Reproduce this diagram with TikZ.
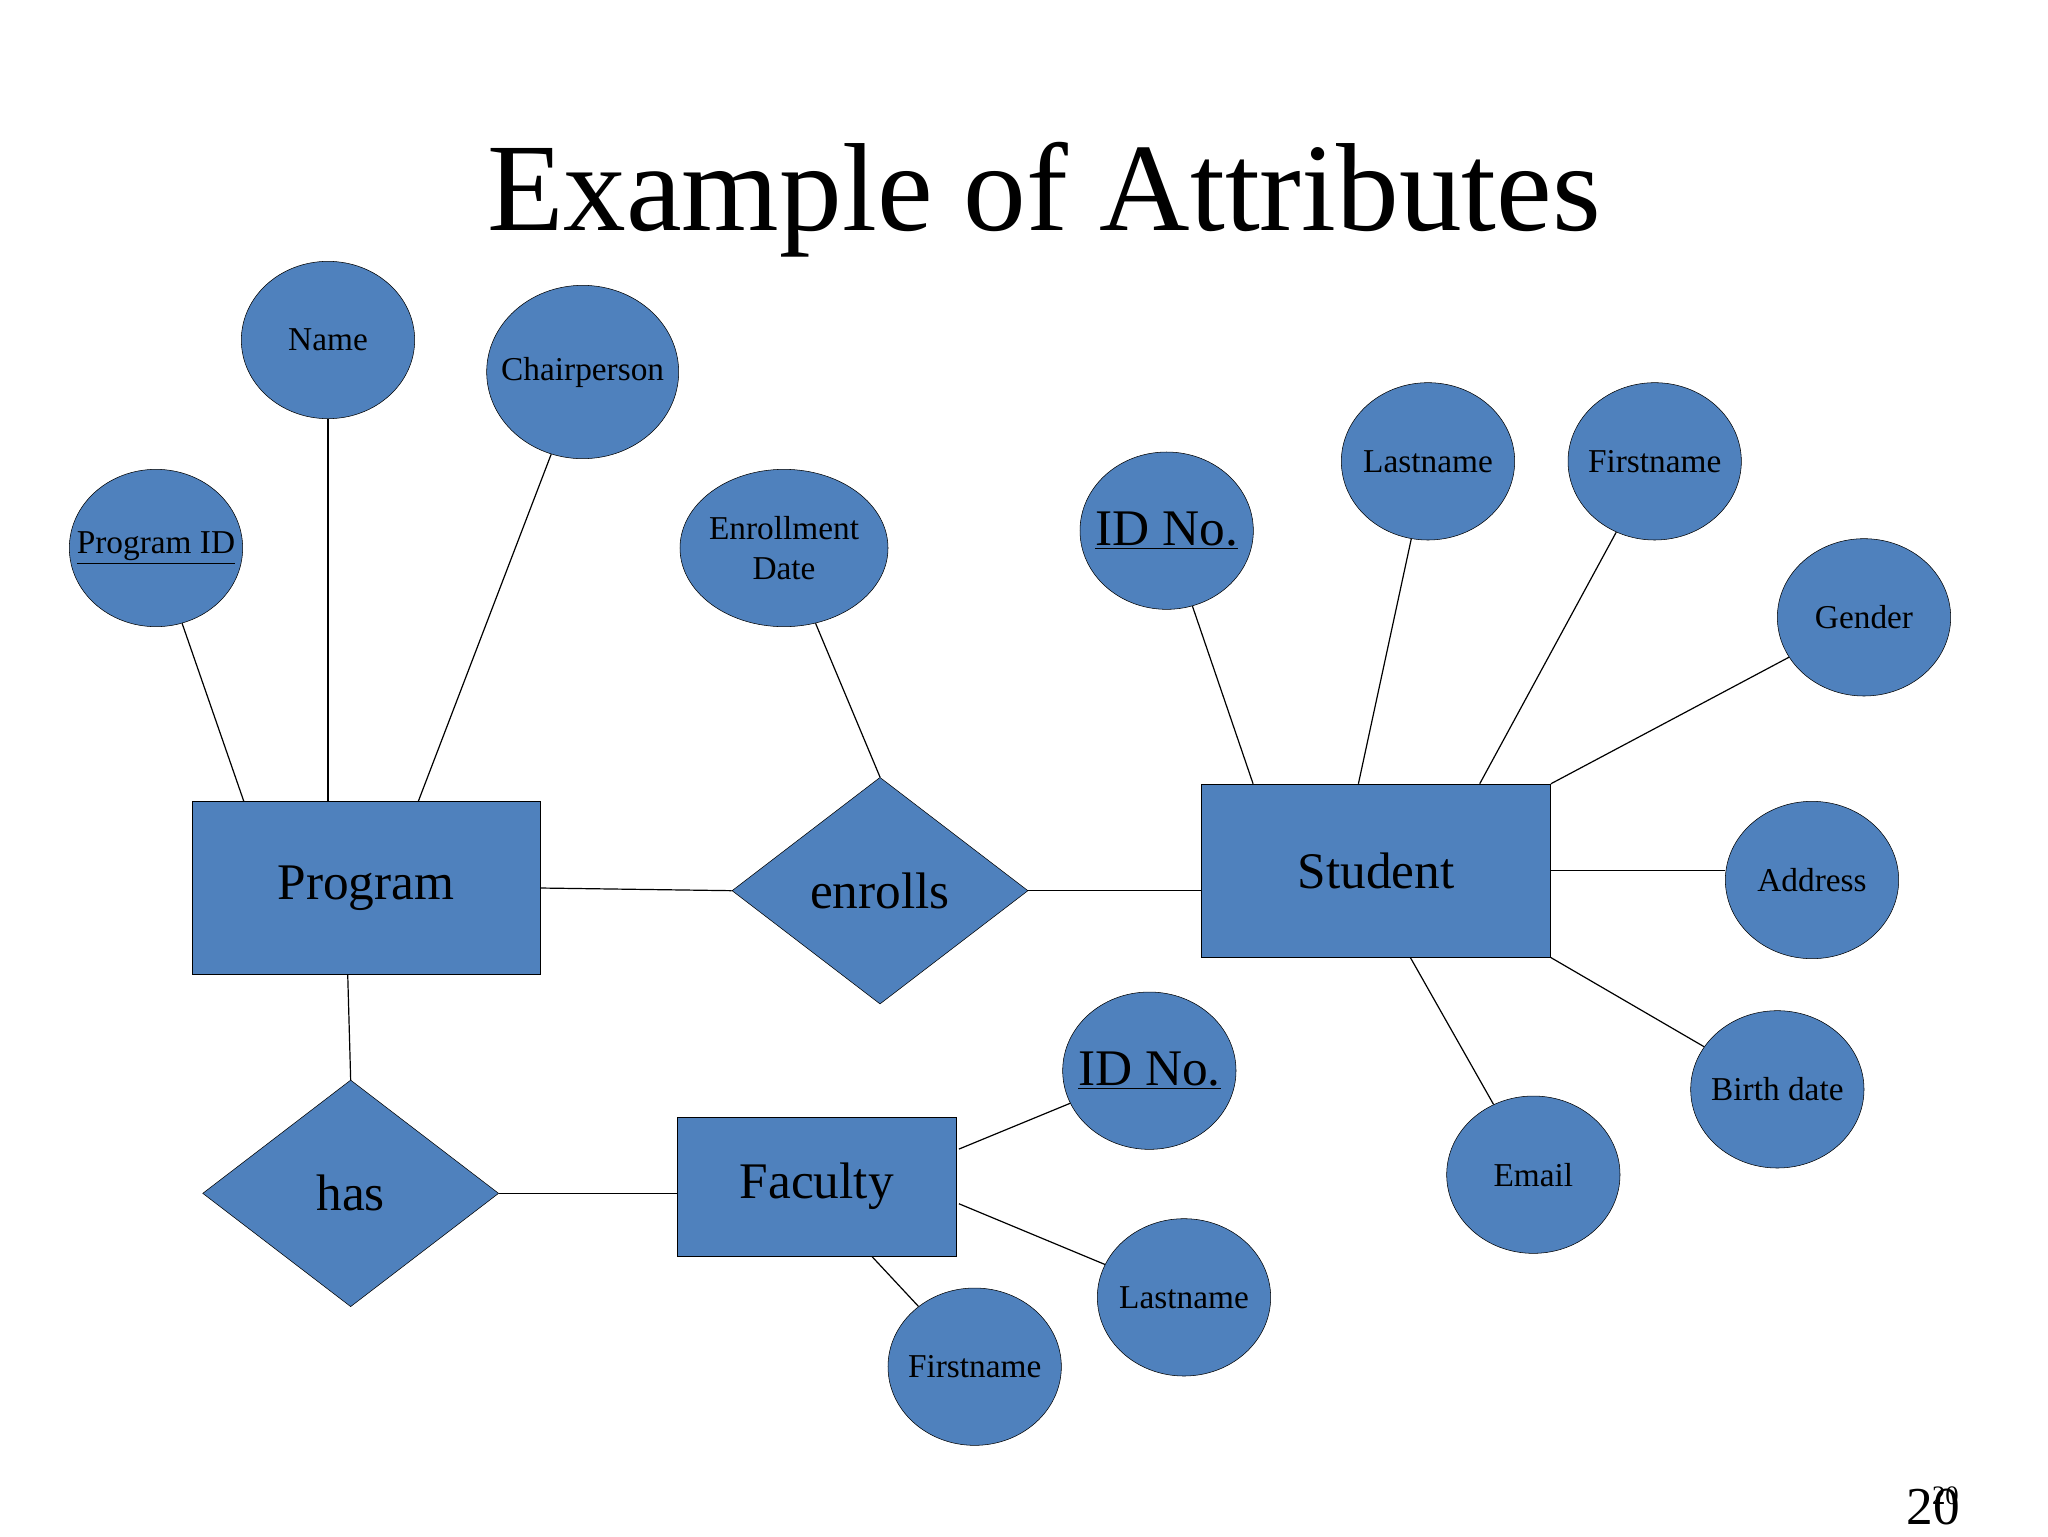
\documentclass[tikz,border=0pt]{standalone}
\usepackage{fontspec}
\setmainfont{Liberation Serif}
\usetikzlibrary{shapes.geometric,calc}
\definecolor{erblue}{HTML}{4F81BD}
\tikzset{
  attr/.style={ellipse,draw=black,fill=erblue,inner sep=0pt,minimum width=130pt,minimum height=118pt},
  atext/.style={inner sep=0pt,font=\fontsize{25}{30}\selectfont,align=center},
  btext/.style={inner sep=0pt,font=\fontsize{38.5}{42}\selectfont},
  ent/.style={rectangle,draw=black,fill=erblue,inner sep=0pt,font=\fontsize{38.5}{42}\selectfont},
  rel/.style={diamond,draw=black,fill=erblue,inner sep=0pt,font=\fontsize{38.5}{42}\selectfont},
  conn/.style={draw=black,line width=0.9pt}
}
\begin{document}
\begin{tikzpicture}[x=1pt,y=-1pt]
\useasboundingbox (0,0) rectangle (1536,1152);
\node[font=\fontsize{94}{98}\selectfont] (title) at (783,150) {Example of Attributes};
% entities and relationships
\node[ent,minimum width=261pt,minimum height=130pt] (prog) at (274.5,666) {Program};
\node[ent,minimum width=262pt,minimum height=130pt] (stud) at (1032,653) {Student};
\node[ent,minimum width=209pt,minimum height=104pt] (fac) at (612.5,890) {Faculty};
\node[rel,minimum width=222pt,minimum height=170pt] (enr) at (660,668) {enrolls};
\node[rel,minimum width=222pt,minimum height=170pt] (has) at (263,895) {has};
% attributes
\node[attr] (name) at (246,255) {};
\node[attr,minimum width=144pt,minimum height=130pt] (chair) at (437,279) {};
\node[attr] (pid) at (117,411) {};
\node[attr,minimum width=156pt] (edate) at (588,411) {};
\node[attr] (sid) at (875,398) {};
\node[attr] (sln) at (1071,346) {};
\node[attr] (sfn) at (1241,346) {};
\node[attr] (gen) at (1398,463) {};
\node[attr] (addr) at (1359,660) {};
\node[attr] (bd) at (1333,817) {};
\node[attr] (mail) at (1150,881) {};
\node[attr] (fid) at (862,803) {};
\node[attr] (fln) at (888,973) {};
\node[attr] (ffn) at (731,1025) {};
\node[atext] (namet) at (name) {Name};
\node[atext] (chairt) at (chair) {Chairperson};
\node[atext] (pidt) at (pid) {\underline{Program ID}};
\node[atext] (edatet) at (edate) {Enrollment\\Date};
\node[btext] (sidt) at (sid) {\underline{ID No.}};
\node[atext] (slnt) at (sln) {Lastname};
\node[atext] (sfnt) at (sfn) {Firstname};
\node[atext] (gent) at (gen) {Gender};
\node[atext] (addrt) at (addr) {Address};
\node[atext] (bdt) at (bd) {Birth date};
\node[atext] (mailt) at (mail) {Email};
\node[btext] (fidt) at (fid) {\underline{ID No.}};
\node[atext] (flnt) at (fln) {Lastname};
\node[atext] (ffnt) at (ffn) {Firstname};
% connectors
\draw[conn] (pid) -- ($(prog.north west)+(39,0)$);
\draw[conn] (name) -- (name |- prog.north);
\draw[conn] (chair) -- ($(prog.north west)+(170,0)$);
\draw[conn] (prog.east) -- (enr.west);
\draw[conn] (enr.east) -- (enr.east -| stud.west);
\draw[conn] (edate) -- (enr.north);
\draw[conn] (sid) -- ($(stud.north west)+(39,0)$);
\draw[conn] (sln) -- ($(stud.north west)+(118,0)$);
\draw[conn] (sfn) -- ($(stud.north west)+(209,0)$);
\draw[conn] (gen) -- (stud.north east);
\draw[conn] (stud.east) -- (stud.east -| addr.west);
\draw[conn] (stud.south east) -- (bd);
\draw[conn] ($(stud.south west)+(157,0)$) -- (mail);
\draw[conn] ($(prog.south west)+(117,0)$) -- (has.north);
\draw[conn] (has.east) -- (has.east -| fac.west);
\draw[conn] ($(fac.north east)+(2,24)$) -- (fid);
\draw[conn] ($(fac.north east)+(2,65)$) -- (fln);
\draw[conn] ($(fac.south west)+(146,0)$) -- (ffn);
% page number
\node[font=\fontsize{40}{44}\selectfont] (pg) at (1450,1130) {20};
\node[font=\fontsize{20}{22}\selectfont] (pgs) at (1459,1122) {20};
\end{tikzpicture}
\end{document}
